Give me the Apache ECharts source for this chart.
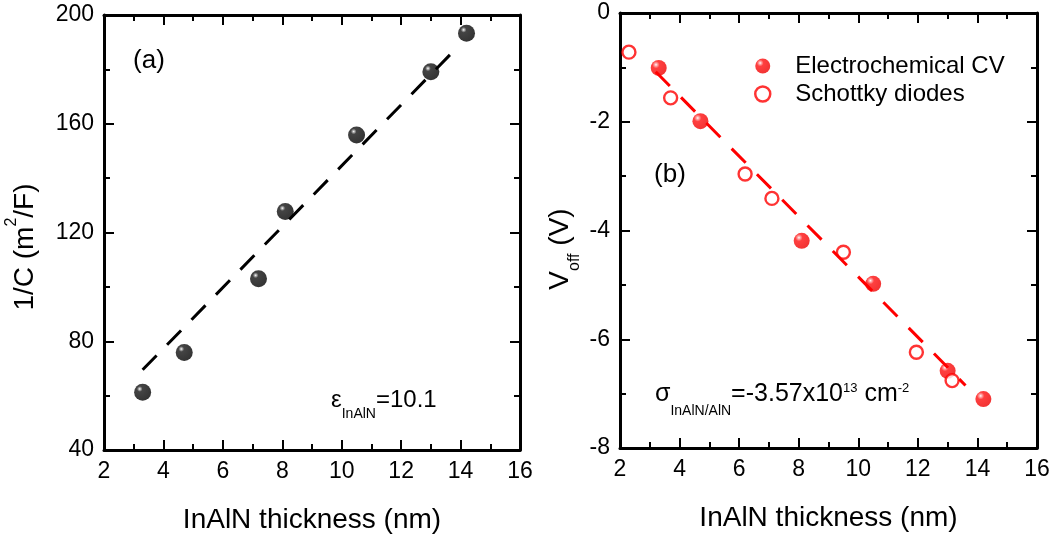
<!DOCTYPE html>
<html>
<head>
<meta charset="utf-8">
<title>InAlN thickness</title>
<script src="https://cdn.jsdelivr.net/npm/echarts@6/dist/echarts.min.js"></script>
<style>
  html, body { margin: 0; padding: 0; background: #fff; }
  #chart { width: 1052px; height: 540px; }
</style>
</head>
<body>
<div id="chart"></div>
<script>
// (a) 1/C against barrier thickness
const thickA = [3.3, 4.7, 7.2, 8.1, 10.5, 13.0, 14.2];
const invCap = [61.2, 75.9, 103.0, 127.7, 155.9, 179.1, 193.3];
const fitAx = [3.3, 13.7];
const fitAy = [69.5, 186.0];

// (b) V_off against barrier thickness
const thickEcv = [3.3, 4.7, 8.1, 10.5, 13.0, 14.2];
const voffEcv = [-1.01, -1.99, -4.19, -4.98, -6.58, -7.10];
const thickSch = [2.3, 3.7, 6.2, 7.1, 9.5, 11.95, 13.15];
const voffSch = [-0.72, -1.56, -2.96, -3.41, -4.40, -6.24, -6.76];
const fitBx = [3.2, 13.6];
const fitBy = [-1.08, -6.85];

// axis ticks: [min, max, step]
const xTicks = [2, 16, 2];
const yTicksA = [40, 200, 40];
const yTicksB = [-8, 0, 2];

const font = 'Liberation Sans, Arial, Helvetica, sans-serif';

function zip(xs, ys) {
  return xs.map((x, i) => [x, ys[i]]);
}

// frame axis, ticks inside on every side
function makeAxis(pos, grid, t, labels, name) {
  let ax = {
    type: 'value',
    gridIndex: grid,
    position: pos,
    min: t[0],
    max: t[1],
    interval: t[2],
    axisLine: { show: true, onZero: false, lineStyle: { color: '#000', width: 3 } },
    axisTick: { show: true, inside: true, length: 10, lineStyle: { color: '#000', width: 2 } },
    minorTick: { show: true, splitNumber: 2, length: 6, lineStyle: { color: '#000', width: 2 } },
    splitLine: { show: false },
    axisLabel: { show: labels, margin: 10, color: '#000', fontSize: 23, fontFamily: font }
  };
  if (name) {
    ax.name = name;
    ax.nameLocation = 'middle';
    ax.nameGap = 56;
    ax.nameMoveOverlap = false;
    ax.nameTextStyle = { color: '#000', fontSize: 28, fontFamily: font };
  }
  return ax;
}

// shaded spheres
const blackBall = new echarts.graphic.RadialGradient(0.33, 0.3, 0.75, [
  { offset: 0, color: '#ffffff' },
  { offset: 0.08, color: '#a0a0a0' },
  { offset: 0.22, color: '#151515' },
  { offset: 1, color: '#000' }
]);
const redBall = new echarts.graphic.RadialGradient(0.33, 0.3, 0.75, [
  { offset: 0, color: '#ffffff' },
  { offset: 0.1, color: '#ffa0a0' },
  { offset: 0.3, color: '#ff1010' },
  { offset: 1, color: '#ee0000' }
]);

const txt = { fill: '#000', fontFamily: font };

let myChart = echarts.init(document.getElementById('chart'), null, { renderer: 'canvas' });

let options = {
  backgroundColor: '#fff',
  animation: false,
  grid: [
    { left: 104, right: 532, top: 15, bottom: 90, outerBoundsMode: 'none' },
    { left: 620, right: 15, top: 13, bottom: 92, outerBoundsMode: 'none' }
  ],
  xAxis: [
    makeAxis('bottom', 0, xTicks, true, 'InAlN thickness (nm)'),
    makeAxis('top', 0, xTicks, false),
    makeAxis('bottom', 1, xTicks, true, 'InAlN thickness (nm)'),
    makeAxis('top', 1, xTicks, false)
  ],
  yAxis: [
    makeAxis('left', 0, yTicksA, true),
    makeAxis('right', 0, yTicksA, false),
    makeAxis('left', 1, yTicksB, true),
    makeAxis('right', 1, yTicksB, false)
  ],
  legend: {
    orient: 'vertical',
    left: 749,
    top: 49,
    itemWidth: 15,
    itemHeight: 15,
    itemGap: 4,
    selectedMode: false,
    textStyle: { fontSize: 24, fontFamily: font, color: '#000', padding: [0, 0, 0, 20] },
    data: [
      { name: 'Electrochemical CV', icon: 'circle', itemStyle: { color: redBall } },
      { name: 'Schottky diodes', icon: 'circle', itemStyle: { color: '#fff', borderColor: '#ff0000', borderWidth: 2.5 } }
    ]
  },
  series: [
    {
      name: '1/C',
      type: 'scatter',
      xAxisIndex: 0,
      yAxisIndex: 0,
      symbol: 'circle',
      symbolSize: 17,
      itemStyle: { color: blackBall },
      data: zip(thickA, invCap)
    },
    {
      name: 'fit a',
      type: 'line',
      xAxisIndex: 0,
      yAxisIndex: 0,
      symbol: 'none',
      z: 3,
      lineStyle: { color: '#000', width: 3, type: [20, 15] },
      data: zip(fitAx, fitAy)
    },
    {
      name: 'Electrochemical CV',
      type: 'scatter',
      xAxisIndex: 2,
      yAxisIndex: 2,
      symbol: 'circle',
      symbolSize: 16,
      itemStyle: { color: redBall },
      data: zip(thickEcv, voffEcv)
    },
    {
      name: 'Schottky diodes',
      type: 'scatter',
      xAxisIndex: 2,
      yAxisIndex: 2,
      symbol: 'circle',
      symbolSize: 13,
      itemStyle: { color: '#fff', borderColor: '#ff0000', borderWidth: 2.4 },
      data: zip(thickSch, voffSch)
    },
    {
      name: 'fit b',
      type: 'line',
      xAxisIndex: 2,
      yAxisIndex: 2,
      symbol: 'none',
      z: 3,
      lineStyle: { color: '#ff0000', width: 3, type: [20, 16] },
      data: zip(fitBx, fitBy)
    }
  ],
  graphic: [
    // y axis titles (rotated, with super/subscripts)
    {
      type: 'text', x: 25, y: 247, rotation: Math.PI / 2,
      style: {
        text: '{m|1/C (m}{p|2}{m|/F)}', align: 'center', verticalAlign: 'middle',
        rich: {
          m: Object.assign({ fontSize: 28 }, txt),
          p: Object.assign({ fontSize: 16, padding: [0, 0, 26, 0] }, txt)
        }
      }
    },
    {
      type: 'text', x: 560, y: 249, rotation: Math.PI / 2,
      style: {
        text: '{m|V}{s|off}{m| (V)}', align: 'center', verticalAlign: 'middle',
        rich: {
          m: Object.assign({ fontSize: 28 }, txt),
          s: Object.assign({ fontSize: 16, padding: [30, 0, 0, 0] }, txt)
        }
      }
    },
    // panel tags
    { type: 'text', x: 149, y: 61, style: Object.assign({ text: '(a)', fontSize: 26, align: 'center', verticalAlign: 'middle' }, txt) },
    { type: 'text', x: 670, y: 175, style: Object.assign({ text: '(b)', fontSize: 26, align: 'center', verticalAlign: 'middle' }, txt) },
    // fit results
    {
      type: 'text', x: 331, y: 400,
      style: {
        text: '{m|ε}{s|InAlN}{m|=10.1}', align: 'left', verticalAlign: 'middle',
        rich: {
          m: Object.assign({ fontSize: 24 }, txt),
          s: Object.assign({ fontSize: 14, padding: [28, 0, 0, 0] }, txt)
        }
      }
    },
    {
      type: 'text', x: 655, y: 394,
      style: {
        text: '{m|σ}{s|InAlN/AlN}{m|=-3.57x10}{p|13}{m| cm}{p|-2}', align: 'left', verticalAlign: 'middle',
        rich: {
          m: Object.assign({ fontSize: 25 }, txt),
          s: Object.assign({ fontSize: 14, padding: [34, 0, 0, 0] }, txt),
          p: Object.assign({ fontSize: 13, padding: [0, 0, 12, 0] }, txt)
        }
      }
    }
  ]
};

myChart.setOption(options);
</script>
</body>
</html>
